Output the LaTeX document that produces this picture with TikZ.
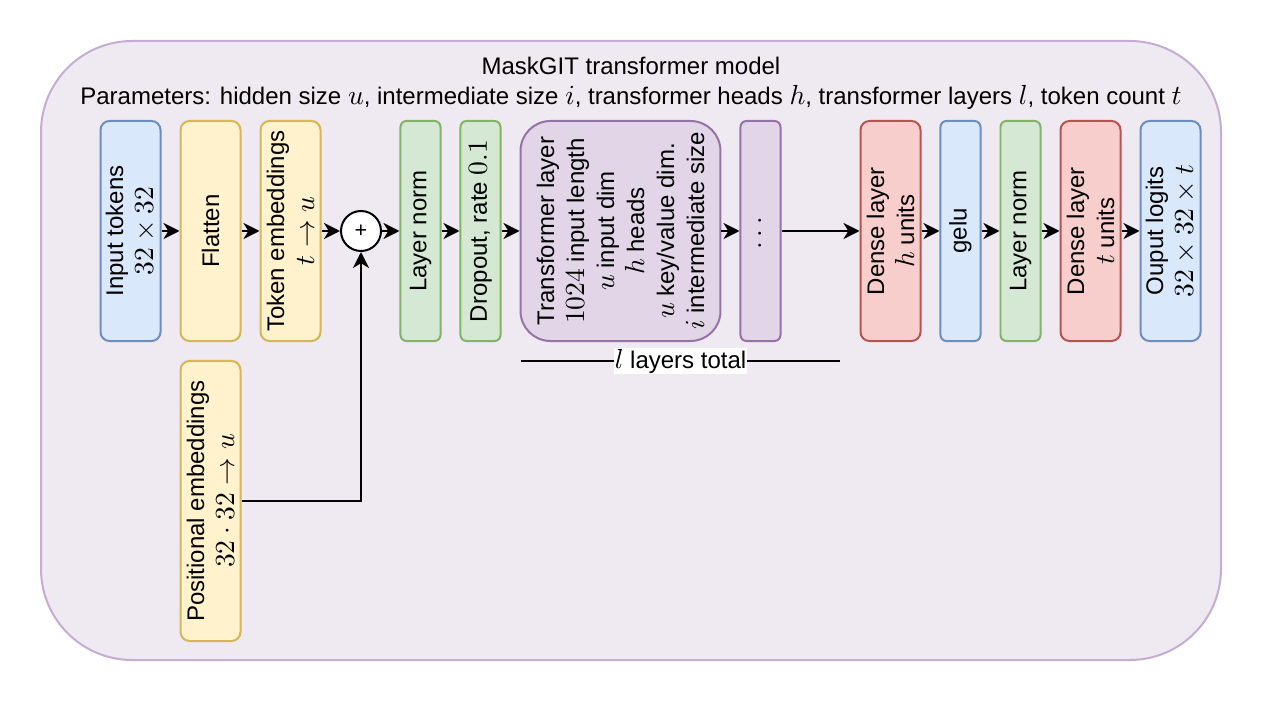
\RequirePackage{fix-cm}
\documentclass[tikz,border=0pt]{standalone}
\usepackage{fontspec}
\setmainfont{Liberation Sans}
\usepackage{amsmath}
\usetikzlibrary{arrows.meta}
\DeclareMathSizes{10}{11.5}{8}{6}

\definecolor{bluefill}{HTML}{DAE8FC}
\definecolor{bluedraw}{HTML}{6C8EBF}
\definecolor{yellowfill}{HTML}{FFF2CC}
\definecolor{yellowdraw}{HTML}{D6B656}
\definecolor{greenfill}{HTML}{D5E8D4}
\definecolor{greendraw}{HTML}{82B366}
\definecolor{redfill}{HTML}{F8CECC}
\definecolor{reddraw}{HTML}{B85450}
\definecolor{purplefill}{HTML}{E1D5E7}
\definecolor{purpledraw}{HTML}{9673A6}
\definecolor{modelfill}{RGB}{239,233,242}
\definecolor{modeldraw}{RGB}{196,172,210}

\begin{document}
\begin{tikzpicture}[x=0.41667pt, y=-0.41667pt,
    every node/.style={font=\fontsize{10}{12.5}\selectfont},
    layer/.style={rotate=90, rounded corners=3.75pt, line width=0.8333pt, align=center,
        minimum width=91.67pt, minimum height=25pt, inner sep=1pt},
    narrow/.style={minimum height=16.67pt, rounded corners=2.5pt},
    bluebox/.style={layer, draw=bluedraw, fill=bluefill},
    yellowbox/.style={layer, draw=yellowdraw, fill=yellowfill},
    greenbox/.style={layer, draw=greendraw, fill=greenfill},
    redbox/.style={layer, draw=reddraw, fill=redfill},
    purplebox/.style={layer, draw=purpledraw, fill=purplefill},
    arr/.style={line width=0.8333pt, -{Stealth[length=6.67pt, width=6.67pt, inset=2pt]}}]
    \useasboundingbox (0,0) rectangle (1262,704);

    % Model frame
    \draw[draw=modeldraw, fill=modelfill, line width=0.8333pt, rounded corners=38pt] (41,41) rectangle (1221,660);
    \node[align=center] (title) at (631,83) {MaskGIT transformer model\\
        Parameters: hidden size $u$, intermediate size $i$, transformer heads $h$, transformer layers $l$, token count $t$};

    % Input side
    \node[bluebox] (inp) at (130.5,231) {Input tokens\\$32\times 32$};
    \node[yellowbox] (flat) at (210.5,231) {Flatten};
    \node[yellowbox] (tok) at (290.5,231) {Token embeddings\\$t\rightarrow u$};
    \node[yellowbox, minimum width=116.67pt] (pos) at (210.5,501) {Positional embeddings\\$32\cdot 32\rightarrow u$};
    \node[circle, draw, fill=white, line width=0.8333pt, minimum size=16.67pt, inner sep=0pt,
        font=\fontsize{9}{10}\selectfont] (plus) at (361,231) {+};

    % Transformer stack
    \node[greenbox, narrow] (ln1) at (420.5,231) {Layer norm};
    \node[greenbox, narrow] (drop) at (480.5,231) {Dropout, rate $0.1$};
    \node[purplebox, minimum height=83.33pt, rounded corners=12.5pt] (trf) at (620.5,231)
        {Transformer layer\\$1024$ input length\\$u$ input dim\\$h$ heads\\$u$ key/value dim.\\$i$ intermediate size};
    \node[purplebox, narrow] (dots) at (760.5,231) {$\cdots$};

    % Output head
    \node[redbox] (dense1) at (890.5,231) {Dense layer\\$h$ units};
    \node[bluebox, narrow] (gelu) at (960.5,231) {gelu};
    \node[greenbox, narrow] (ln2) at (1020.5,231) {Layer norm};
    \node[redbox] (dense2) at (1090.5,231) {Dense layer\\$t$ units};
    \node[bluebox] (out) at (1170.5,231) {Ouput logits\\$32\times 32\times t$};

    % Connections
    \draw[arr] (inp.south) -- (flat.north);
    \draw[arr] (flat.south) -- (tok.north);
    \draw[arr] (tok.south) -- (plus.west);
    \draw[arr] (pos.south) -| (plus.south);
    \draw[arr] (plus.east) -- (ln1.north);
    \draw[arr] (ln1.south) -- (drop.north);
    \draw[arr] (drop.south) -- (trf.north);
    \draw[arr] (trf.south) -- (dots.north);
    \draw[arr] (dots.south) -- (dense1.north);
    \draw[arr] (dense1.south) -- (gelu.north);
    \draw[arr] (gelu.south) -- (ln2.north);
    \draw[arr] (ln2.south) -- (dense2.north);
    \draw[arr] (dense2.south) -- (out.north);

    % Layer count
    \coordinate (lyl) at (521,361);
    \coordinate (lyr) at (840,361);
    \draw[line width=0.8333pt] (lyl) -- node[fill=white, inner sep=0.5pt] (lytext) {$l$ layers total} (lyr);
\end{tikzpicture}
\end{document}
